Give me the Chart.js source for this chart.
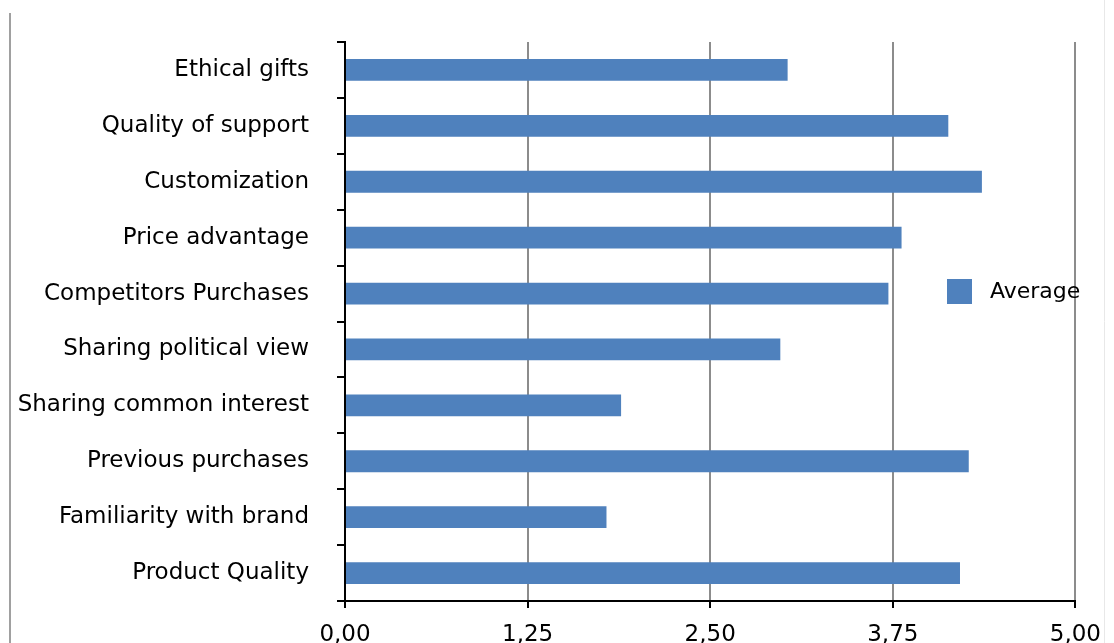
<!DOCTYPE html>
<html>
<head>
<meta charset="utf-8">
<script src="https://cdn.jsdelivr.net/npm/chart.js@4"></script>
<style>
  html, body { margin: 0; padding: 0; background: #ffffff; }
  #wrap { width: 1114px; height: 643px; position: relative; }
</style>
</head>
<body>
<div id="wrap"><canvas id="c" width="1114" height="643"></canvas></div>
<script>
const categories = [
  "Ethical gifts",
  "Quality of support",
  "Customization",
  "Price advantage",
  "Competitors Purchases",
  "Sharing political view",
  "Sharing common interest",
  "Previous purchases",
  "Familiarity with brand",
  "Product Quality"
];
const averageValues = [3.03, 4.13, 4.36, 3.81, 3.72, 2.98, 1.89, 4.27, 1.79, 4.21];
const xTickValues = [0, 1.25, 2.5, 3.75, 5];
const seriesName = "Average";

const FONT = "'DejaVu Sans', sans-serif";
const BAR_COLOR = "#4F81BD";

const decor = {
  id: 'decor',
  beforeDraw(chart) {
    const ctx = chart.ctx;
    ctx.save();
    ctx.strokeStyle = '#a0a0a0';
    ctx.lineWidth = 2;
    ctx.beginPath();
    ctx.moveTo(10, 13);
    ctx.lineTo(10, 643);
    ctx.stroke();
    ctx.strokeStyle = '#e8e8e8';
    ctx.lineWidth = 1;
    ctx.beginPath();
    ctx.moveTo(1104.5, 0);
    ctx.lineTo(1104.5, 643);
    ctx.stroke();
    ctx.restore();
  },
  afterDraw(chart) {
    const ctx = chart.ctx;
    ctx.save();
    ctx.fillStyle = BAR_COLOR;
    ctx.fillRect(947, 279, 25, 25);
    ctx.fillStyle = '#000';
    ctx.font = "22px " + FONT;
    ctx.textBaseline = 'middle';
    ctx.textAlign = 'left';
    ctx.fillText(seriesName, 990, 292);
    ctx.restore();
  }
};

new Chart(document.getElementById('c'), {
  type: 'bar',
  data: {
    labels: categories,
    datasets: [{
      label: seriesName,
      data: averageValues,
      backgroundColor: BAR_COLOR,
      borderWidth: 0,
      barPercentage: 0.39,
      categoryPercentage: 1.0
    }]
  },
  options: {
    indexAxis: 'y',
    responsive: false,
    animation: false,
    layout: { padding: { top: 42, right: 38, left: 0, bottom: 0 } },
    plugins: {
      legend: { display: false },
      tooltip: { enabled: false }
    },
    scales: {
      x: {
        min: 0,
        max: 5,
        afterBuildTicks(scale) {
          scale.ticks = xTickValues.map(v => ({ value: v }));
        },
        afterFit(scale) { scale.height = 42; },
        grid: {
          color: '#8c8c8c',
          lineWidth: 2,
          tickColor: '#000',
          tickLength: 7,
          drawTicks: true
        },
        border: { display: true, color: '#000', width: 2 },
        ticks: {
          color: '#000',
          font: { family: FONT, size: 23 },
          padding: 13,
          callback: (v) => Number(v).toFixed(2).replace('.', ',')
        }
      },
      y: {
        afterFit(scale) { scale.width = 345; },
        grid: {
          display: true,
          drawOnChartArea: false,
          offset: true,
          tickColor: '#000',
          tickLength: 8,
          lineWidth: 2
        },
        border: { display: true, color: '#000', width: 2 },
        ticks: {
          color: '#000',
          font: { family: FONT, size: 23 },
          padding: 28
        }
      }
    }
  },
  plugins: [decor]
});
</script>
</body>
</html>
